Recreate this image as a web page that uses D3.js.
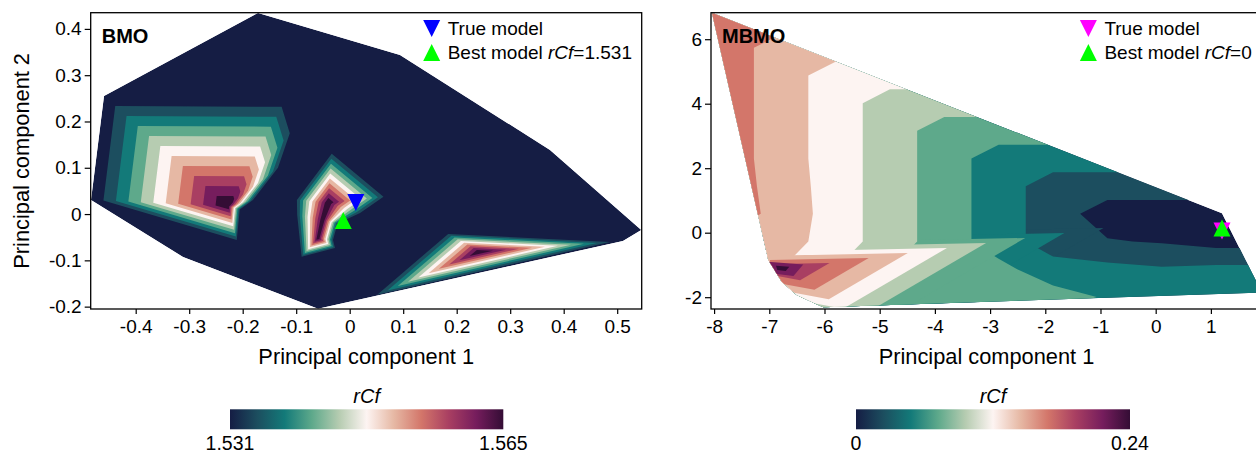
<!DOCTYPE html>
<html><head><meta charset="utf-8">
<script src="https://cdn.jsdelivr.net/npm/d3@7/dist/d3.min.js"></script>
<style>
html,body{margin:0;padding:0;background:#fff;}
svg{display:block;}
text{font-family:"Liberation Sans",Arial,Helvetica,sans-serif;fill:#000;}
</style></head><body>
<svg id="chart" width="1256" height="453"></svg>
<script>
// ---------------- data ----------------
// contour band colours (cmocean "curl"), 11 bands
const bandColors = ["#151d44","#1c4e5f","#137a79","#5ea98b","#b6ccb1","#fdf4f2","#e6b8a4","#d3766a","#a93f62","#761d5d","#340d35"];

// ---- BMO panel ----
const bmoRange = [1.531, 1.565];
const bmoXTicks = [-0.4,-0.3,-0.2,-0.1,0,0.1,0.2,0.3,0.4,0.5];
const bmoYTicks = [-0.2,-0.1,0,0.1,0.2,0.3,0.4];
// sampled models on the outer boundary (rCf = minimum)
const bmoHull = [[-0.4836,0.0305],[-0.4593,0.2552],[-0.1714,0.4345],[0.0940,0.3436],[0.3744,0.1385],
                 [0.5450,-0.0344],[0.5108,-0.0581],[-0.0592,-0.2043],[-0.3116,-0.0927]];
// ridges of high rCf (one or more sample points per ridge)
const bmoAnchors = [
  [[-0.2275,0.0175]],
  [[-0.0406,0.0240],[-0.0499,-0.0127],[-0.0593,-0.0516]],
  [[0.2435,-0.0812]]
];
const bmoPeakV = [1.565, 1.565, 1.565];
const bmoRingV = [1.531, 1.531, 1.531];
// surrounding samples of each ridge: [x, y, index of nearest ridge sample]
const bmoRings = [
  [[-0.4593,0.2552,0],[-0.1172,0.2530,0],[-0.1004,0.1904,0],[-0.1247,0.1083,0],[-0.1761,0.0318,0],[-0.2032,0.0089,0],[-0.2095,-0.0633,0],[-0.4836,0.0305,0]],
  [[-0.0329,0.1407,0],[0.0735,0.0389,0],[0.0254,0.0002,0],[-0.0200,-0.0214,1],[-0.0284,-0.0564,2],[-0.0243,-0.0754,2],[-0.0929,-0.0962,2],[-0.1030,-0.0011,1],[-0.1045,0.0311,0]],
  [[0.1781,-0.0391,0],[0.5108,-0.0581,0],[0.0323,-0.1835,0]]
];
const bmoTrue = [0.0114, 0.0251];
const bmoBest = [-0.0120, -0.0138];
const bmoBestValue = "1.531";

// ---- MBMO panel ----
const mbmoRange = [0, 0.24];
const mbmoXTicks = [-8,-7,-6,-5,-4,-3,-2,-1,0,1];
const mbmoYTicks = [-2,0,2,4,6];
const mbmoHull = [[-8.04,6.82],[1.201,0.60],[1.925,-1.855],[-6.022,-2.313],[-6.504,-1.932],[-6.775,-1.519],[-7.018,-0.847]];
const mbmoGridX = [-7.77,-6.785,-5.80,-4.815,-3.83,-2.845,-1.86,-0.875,0.11,1.095,2.08];
const mbmoGridY = [6.59,5.732,4.874,4.016,3.158,2.30,1.442,0.584,-0.274,-1.132,-1.99];
const mbmoGrid = [
  [0.1636,0.1636,0.1636,0.1636,0.1636,0.1636,0.1636,0.1636,0.1636,0.1636,0.1636],
  [0.1636,0.1418,0.1418,0.1418,0.1418,0.1418,0.1418,0.1418,0.1418,0.1418,0.1418],
  [0.1636,0.1418,0.1200,0.1200,0.1200,0.1200,0.1200,0.1200,0.1200,0.1200,0.1200],
  [0.1636,0.1418,0.1200,0.0982,0.0982,0.0982,0.0982,0.0982,0.0982,0.0982,0.0982],
  [0.1636,0.1418,0.1200,0.0982,0.0764,0.0764,0.0764,0.0764,0.0764,0.0764,0.0764],
  [0.1636,0.1418,0.1200,0.0982,0.0764,0.0545,0.0545,0.0545,0.0545,0.0545,0.0545],
  [0.1636,0.1440,0.1200,0.0982,0.0764,0.0545,0.0327,0.0327,0.0327,0.0327,0.0327],
  [0.1636,0.1462,0.1200,0.0982,0.0764,0.0545,0.0327,0.0109,0.0109,0.0109,0.0109],
  [0.1484,0.1418,0.1200,0.0982,0.0764,0.0545,0.0327,0.0233,0.0201,0.0137,0.0131],
  [0.1309,0.1309,0.1091,0.0873,0.0764,0.0720,0.0528,0.0502,0.0460,0.0491,0.0491],
  [0.1091,0.1091,0.0938,0.0829,0.0851,0.0785,0.0742,0.0633,0.0567,0.0567,0.0567]
];
const mbmoAnchors = [[[-6.752,-1.126]], [[-6.788,-1.095]]];
const mbmoPeakV = [0.2005, 0.2313];
const mbmoRingV = [0.0, 0.192];
const mbmoRings = [
  [[-7.739,0.047,0],[-0.236,0.304,0],[-4.361,-3.823,0],[-7.893,-2.707,0]],
  [[-7.060,-0.878,0],[-6.335,-0.971,0],[-6.534,-1.374,0],[-6.987,-1.281,0]]
];
const mbmoTrue = [1.201, 0.053];
const mbmoBest = [1.201, 0.146];
const mbmoBestValue = "0";

// ---------------- drawing ----------------
const svg = d3.select("#chart");
const defs = svg.append("defs");

const grad = defs.append("linearGradient").attr("id","curl").attr("x1","0").attr("x2","1").attr("y1","0").attr("y2","0");
bandColors.forEach((c,i)=>grad.append("stop").attr("offset", (i/10*100)+"%").attr("stop-color", c));

function tri(cx, cy, w, up){
  const h = w/2;
  return up ? `M${cx},${cy-h}L${cx+h},${cy+h}L${cx-h},${cy+h}Z`
            : `M${cx},${cy+h}L${cx+h},${cy-h}L${cx-h},${cy-h}Z`;
}
const polyD = pts => "M" + pts.map(p => p[0].toFixed(2)+","+p[1].toFixed(2)).join("L") + "Z";

function drawPanel(o){
  const x = d3.scaleLinear().domain(o.xDom).range([o.left, o.right]);
  const y = d3.scaleLinear().domain(o.yDom).range([o.bottom, o.top]);
  const g = svg.append("g");
  defs.append("clipPath").attr("id","ax-"+o.id).append("rect")
    .attr("x",o.left).attr("y",o.top).attr("width",o.right-o.left).attr("height",o.bottom-o.top);
  const hullPx = d3.polygonHull(o.hull.map(d=>[x(d[0]),y(d[1])]));
  const hullD = polyD(hullPx);
  defs.append("clipPath").attr("id","hull-"+o.id).append("path").attr("d",hullD);
  const gA = g.append("g").attr("clip-path",`url(#ax-${o.id})`);
  const gH = gA.append("g").attr("clip-path",`url(#hull-${o.id})`);
  const [vmin,vmax] = o.range;
  const levels = d3.range(12).map(i=>vmin+i*(vmax-vmin)/11);
  gH.append("path").attr("d",hullD).attr("fill",bandColors[0]);

  let gridPath=null, flat=null, nx=0, ny=0;
  if(o.grid){
    nx=o.gridX.length; ny=o.gridY.length; flat=o.grid.flat();
    const gx0=o.gridX[0], gdx=o.gridX[1]-o.gridX[0], gy0=o.gridY[0], gdy=o.gridY[1]-o.gridY[0];
    gridPath = d3.geoPath(d3.geoTransform({point(px,py){ this.stream.point(x(gx0+(px-0.5)*gdx), y(gy0+(py-0.5)*gdy)); }}));
  }
  for(let k=1;k<=10;k++){
    const thr=levels[k], col=bandColors[k];
    if(o.grid){
      const c=d3.contours().size([nx,ny]).thresholds([thr])(flat)[0];
      const d=gridPath(c);
      if(d) gH.append("path").attr("d",d).attr("fill",col);
    }
    o.rings.forEach((ring,i)=>{
      const vP=o.peakV[i], vR=o.ringV[i];
      if(vP>thr && thr>vR){
        const s=(vP-thr)/(vP-vR);
        const pts=ring.map(r=>{ const a=o.anchors[i][r[2]]; return [x(a[0]+s*(r[0]-a[0])), y(a[1]+s*(r[1]-a[1]))]; });
        gH.append("path").attr("d",polyD(pts)).attr("fill",col);
      }
    });
  }

  // markers
  gA.append("path").attr("d",tri(x(o.trueM[0]),y(o.trueM[1]),17,false)).attr("fill",o.trueColor);
  gA.append("path").attr("d",tri(x(o.bestM[0]),y(o.bestM[1]),17,true)).attr("fill","#00ff00");

  // axes
  const xa = g.append("g").attr("transform",`translate(0,${o.bottom})`)
    .call(d3.axisBottom(x).tickValues(o.xTicks).tickFormat(o.fmt).tickSize(5).tickPadding(6));
  xa.select(".domain").remove();
  xa.selectAll("line").attr("stroke","#000").attr("stroke-width",1.2);
  xa.selectAll("text").attr("font-size",19).attr("font-family",null).attr("fill","#000");
  const ya = g.append("g").attr("transform",`translate(${o.left},0)`)
    .call(d3.axisLeft(y).tickValues(o.yTicks).tickFormat(o.fmt).tickSize(6).tickPadding(3));
  ya.select(".domain").remove();
  ya.selectAll("line").attr("stroke","#000").attr("stroke-width",1.2);
  ya.selectAll("text").attr("font-size",19).attr("font-family",null).attr("fill","#000");
  g.append("rect").attr("x",o.left).attr("y",o.top).attr("width",o.right-o.left).attr("height",o.bottom-o.top)
    .attr("fill","none").attr("stroke","#000").attr("stroke-width",1.3);

  g.append("text").attr("x",(o.left+o.right)/2).attr("y",364).attr("text-anchor","middle")
    .attr("font-size",21.8).text("Principal component 1");
  if(o.ylabel){
    g.append("text").attr("transform",`translate(28.5,${(o.top+o.bottom)/2}) rotate(-90)`)
      .attr("text-anchor","middle").attr("font-size",21.8).text(o.ylabel);
  }
  g.append("text").attr("x",o.left+11).attr("y",42.6).attr("font-size",20).attr("font-weight","bold").text(o.title);

  // legend
  const lx=o.legendX;
  g.append("path").attr("d",tri(lx,28.5,17,false)).attr("fill",o.trueColor);
  g.append("path").attr("d",tri(lx,52.5,17,true)).attr("fill","#00ff00");
  g.append("text").attr("x",lx+16).attr("y",35.2).attr("font-size",19).text("True model");
  const t2=g.append("text").attr("x",lx+16).attr("y",59.2).attr("font-size",19);
  t2.append("tspan").text("Best model ");
  t2.append("tspan").attr("font-style","italic").text("rCf");
  t2.append("tspan").text("="+o.bestValue);

  // colorbar
  const cb=o.cbar;
  g.append("rect").attr("x",cb[0]).attr("y",409.3).attr("width",cb[1]-cb[0]).attr("height",20).attr("fill","url(#curl)");
  g.append("text").attr("x",(cb[0]+cb[1])/2).attr("y",402.5).attr("text-anchor","middle")
    .attr("font-size",20).attr("font-style","italic").text("rCf");
  g.append("text").attr("x",cb[0]).attr("y",450).attr("text-anchor","middle").attr("font-size",19.5).text(o.cbLabels[0]);
  g.append("text").attr("x",cb[1]).attr("y",450).attr("text-anchor","middle").attr("font-size",19.5).text(o.cbLabels[1]);
}

drawPanel({
  id:"bmo", title:"BMO", ylabel:"Principal component 2",
  left:90.7, right:641.7, top:12.7, bottom:309,
  xDom:[-0.4841,0.5458], yDom:[-0.2051,0.435],
  xTicks:bmoXTicks, yTicks:bmoYTicks,
  fmt:d=> d===0 ? "0" : d.toFixed(1),
  range:bmoRange, hull:bmoHull, anchors:bmoAnchors, peakV:bmoPeakV, ringV:bmoRingV, rings:bmoRings,
  trueM:bmoTrue, bestM:bmoBest, trueColor:"#0000ff", bestValue:bmoBestValue,
  legendX:431.7, cbar:[230,503.3], cbLabels:[bmoRange[0].toFixed(3), bmoRange[1].toFixed(3)]
});
drawPanel({
  id:"mbmo", title:"MBMO", ylabel:null,
  left:711, right:1262, top:12.7, bottom:309,
  xDom:[-8.056,1.926], yDom:[-2.366,6.822],
  xTicks:mbmoXTicks, yTicks:mbmoYTicks,
  fmt:d=> String(d),
  range:mbmoRange, hull:mbmoHull, anchors:mbmoAnchors, peakV:mbmoPeakV, ringV:mbmoRingV, rings:mbmoRings,
  grid:mbmoGrid, gridX:mbmoGridX, gridY:mbmoGridY,
  trueM:mbmoTrue, bestM:mbmoBest, trueColor:"#ff00ff", bestValue:mbmoBestValue,
  legendX:1088.4, cbar:[856,1130], cbLabels:["0","0.24"]
});
</script>
</body></html>
